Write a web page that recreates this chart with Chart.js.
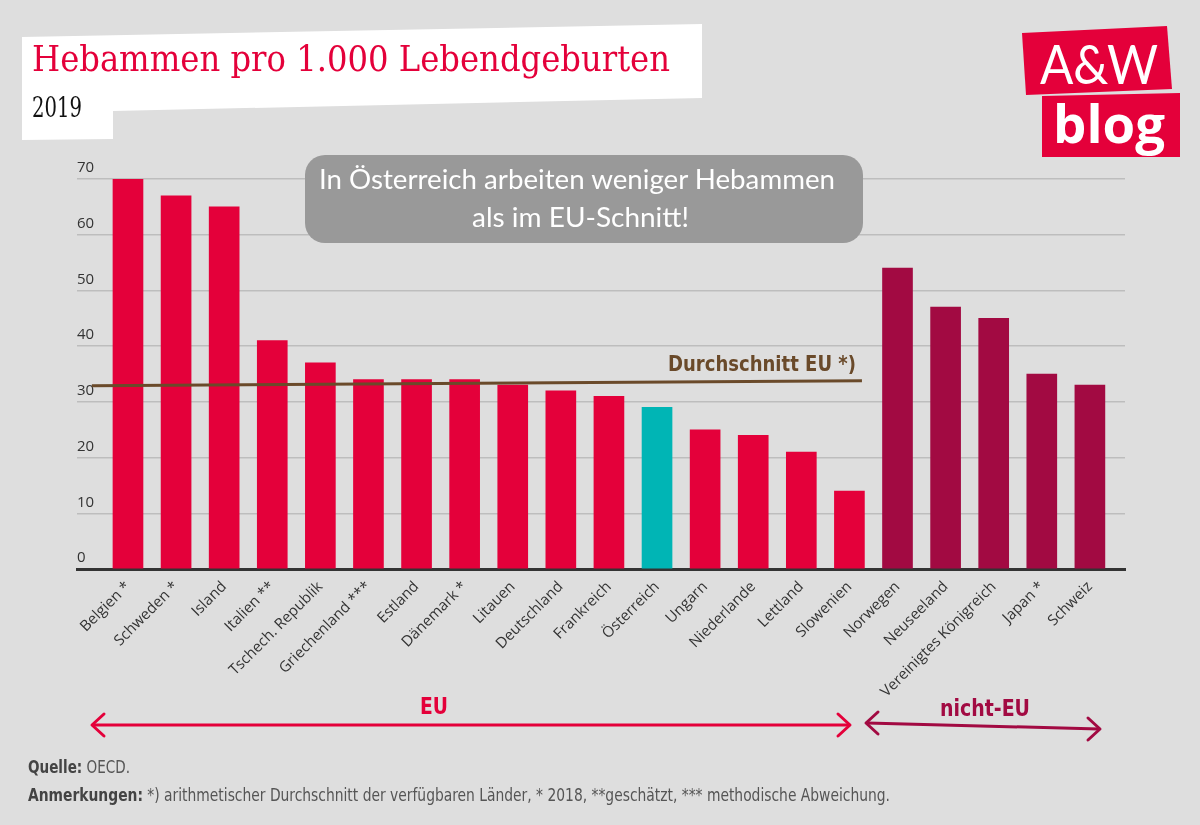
<!DOCTYPE html>
<html lang="de">
<head>
<meta charset="utf-8">
<title>Hebammen pro 1.000 Lebendgeburten</title>
<script src="https://cdn.jsdelivr.net/npm/chart.js@4.4.0/dist/chart.umd.min.js"></script>
<style>
  html, body { margin: 0; padding: 0; background: #dedede; }
  #wrap { position: relative; width: 1200px; height: 825px; overflow: hidden; }
  #chart { position: absolute; left: 0; top: 0; }
  #overlay { position: absolute; left: 0; top: 0; pointer-events: none; }
</style>
</head>
<body>
<div id="wrap">
  <canvas id="chart" width="1200" height="825"></canvas>
  <svg id="overlay" width="1200" height="825" xmlns="http://www.w3.org/2000/svg">
    <!-- title card -->
    <polygon points="22,37 702,24 702,98 113,111 113,139 22,140" fill="#ffffff"/>
    <text x="32" y="71" font-family="'DejaVu Serif', serif" font-size="35" fill="#e4003a"
          textLength="638" lengthAdjust="spacingAndGlyphs">Hebammen pro 1.000 Lebendgeburten</text>
    <text x="32" y="117" font-family="'DejaVu Serif', serif" font-size="27" fill="#111"
          textLength="50" lengthAdjust="spacingAndGlyphs">2019</text>

    <!-- logo -->
    <polygon points="1022,33 1167,26 1172,89 1026,95" fill="#e4003a"/>
    <polygon points="1042,96 1180,93 1180,157 1042,157" fill="#e4003a"/>
    <text x="1040" y="84" font-family="Lato, 'Open Sans', sans-serif" font-size="54" fill="#fff"
          textLength="118" lengthAdjust="spacingAndGlyphs">A&amp;W</text>
    <text x="1053" y="143" font-family="'Open Sans', Lato, sans-serif" font-weight="bold" font-size="52" fill="#fff"
          textLength="112" lengthAdjust="spacingAndGlyphs">blog</text>

    <!-- callout -->
    <rect x="305" y="155" width="558" height="88" rx="20" ry="20" fill="#999999"/>
    <text x="319" y="189" font-family="Lato, 'Open Sans', sans-serif" font-size="27" fill="#fff"
          textLength="516" lengthAdjust="spacingAndGlyphs">In Österreich arbeiten weniger Hebammen</text>
    <text x="472" y="227" font-family="Lato, 'Open Sans', sans-serif" font-size="27" fill="#fff"
          textLength="217" lengthAdjust="spacingAndGlyphs">als im EU-Schnitt!</text>

    <!-- average label -->
    <text x="668" y="371" font-family="'Liberation Sans Narrow', 'DejaVu Sans Condensed', 'Open Sans', sans-serif"
          font-weight="bold" font-size="22" fill="#6a4a2a"
          textLength="188" lengthAdjust="spacingAndGlyphs">Durchschnitt EU *)</text>

    <!-- group arrows -->
    <g fill="none" stroke="#e4003a" stroke-width="3" stroke-linecap="round" stroke-linejoin="round">
      <line x1="93" y1="725" x2="849" y2="725"/>
      <polyline points="104,714 92,725 104,736"/>
      <polyline points="838,714 850,725 838,736"/>
    </g>
    <text x="434" y="714" text-anchor="middle" font-family="'Liberation Sans Narrow', 'DejaVu Sans Condensed', 'Open Sans', sans-serif"
          font-weight="bold" font-size="23" fill="#e4003a" textLength="28" lengthAdjust="spacingAndGlyphs">EU</text>
    <g fill="none" stroke="#a20a42" stroke-width="3" stroke-linecap="round" stroke-linejoin="round">
      <line x1="867" y1="723" x2="1099" y2="729"/>
      <polyline points="878,712 866,723 878,734"/>
      <polyline points="1088,718 1100,729 1088,740"/>
    </g>
    <text x="985" y="716" text-anchor="middle" font-family="'Liberation Sans Narrow', 'DejaVu Sans Condensed', 'Open Sans', sans-serif"
          font-weight="bold" font-size="23" fill="#a20a42" textLength="90" lengthAdjust="spacingAndGlyphs">nicht-EU</text>

    <!-- footer -->
    <text x="28" y="773" font-family="'Liberation Sans Narrow', 'DejaVu Sans Condensed', 'Open Sans', sans-serif"
          font-size="17" fill="#555" textLength="102" lengthAdjust="spacingAndGlyphs"><tspan font-weight="bold" fill="#444">Quelle:</tspan> OECD.</text>
    <text x="28" y="801" font-family="'Liberation Sans Narrow', 'DejaVu Sans Condensed', 'Open Sans', sans-serif"
          font-size="17" fill="#555" textLength="862" lengthAdjust="spacingAndGlyphs"><tspan font-weight="bold" fill="#444">Anmerkungen:</tspan> *) arithmetischer Durchschnitt der verfügbaren Länder, * 2018, **geschätzt, *** methodische Abweichung.</text>
  </svg>
</div>

<script>
// --- data ---
const euCountries = ['Belgien *', 'Schweden *', 'Island', 'Italien **', 'Tschech. Republik',
    'Griechenland ***', 'Estland', 'Dänemark *', 'Litauen', 'Deutschland', 'Frankreich',
    'Österreich', 'Ungarn', 'Niederlande', 'Lettland', 'Slowenien'];
const euValues = [70, 67, 65, 41, 37, 34, 34, 34, 33, 32, 31, 29, 25, 24, 21, 14];

const nonEuCountries = ['Norwegen', 'Neuseeland', 'Vereinigtes Königreich', 'Japan *', 'Schweiz'];
const nonEuValues = [54, 47, 45, 35, 33];

const yTicks = [0, 10, 20, 30, 40, 50, 60, 70];

// EU average line as drawn (start / end, category units and value)
const euAverageX = [-0.75, 15.26];
const euAverageY = [32.9, 33.8];

const highlight = 'Österreich';

// --- build ---
const categories = euCountries.concat(nonEuCountries);
const values = euValues.concat(nonEuValues);

const barColors = categories.map((c, i) => {
    if (c === highlight) return '#00b5b5';
    if (i >= euCountries.length) return '#a20a42';
    return '#e4003a';
});

const ctx = document.getElementById('chart').getContext('2d');

new Chart(ctx, {
    type: 'bar',
    data: {
        datasets: [{
            type: 'line',
            data: euAverageX.map((x, i) => ({ x: x, y: euAverageY[i] })),
            borderColor: '#6a4a2a',
            borderWidth: 3,
            pointRadius: 0,
            fill: false,
            order: 0,
        }, {
            type: 'bar',
            data: values.map((v, i) => ({ x: i, y: v })),
            backgroundColor: barColors,
            barThickness: 30,
            order: 1,
        }]
    },
    options: {
        responsive: false,
        animation: false,
        layout: { padding: { left: 77, right: 75, top: 179, bottom: 0 } },
        plugins: {
            legend: { display: false },
            tooltip: { enabled: false },
        },
        scales: {
            x: {
                type: 'linear',
                offset: false,
                min: -1.06,
                max: 20.73,
                grid: { display: false, drawTicks: false },
                border: { display: true, color: '#333333', width: 3 },
                ticks: {
                    stepSize: 1,
                    autoSkip: false,
                    minRotation: 45,
                    maxRotation: 45,
                    padding: 9,
                    color: '#333',
                    font: { family: "'Open Sans', sans-serif", size: 15 },
                    callback: (v) => (Number.isInteger(v) && v >= 0 && v < categories.length) ? categories[v] : '',
                },
                afterFit: (scale) => { scale.height = 825 - 569; },
            },
            y: {
                min: yTicks[0],
                max: yTicks[yTicks.length - 1],
                grid: { color: '#bdbdbd', lineWidth: 1.5, drawTicks: false },
                border: { display: false },
                ticks: {
                    stepSize: 10,
                    mirror: true,
                    padding: 0,
                    labelOffset: -11,
                    color: '#333',
                    font: { family: "'Open Sans', sans-serif", size: 15 },
                },
                afterFit: (scale) => { scale.width = 0; },
            }
        }
    }
});
</script>
</body>
</html>
